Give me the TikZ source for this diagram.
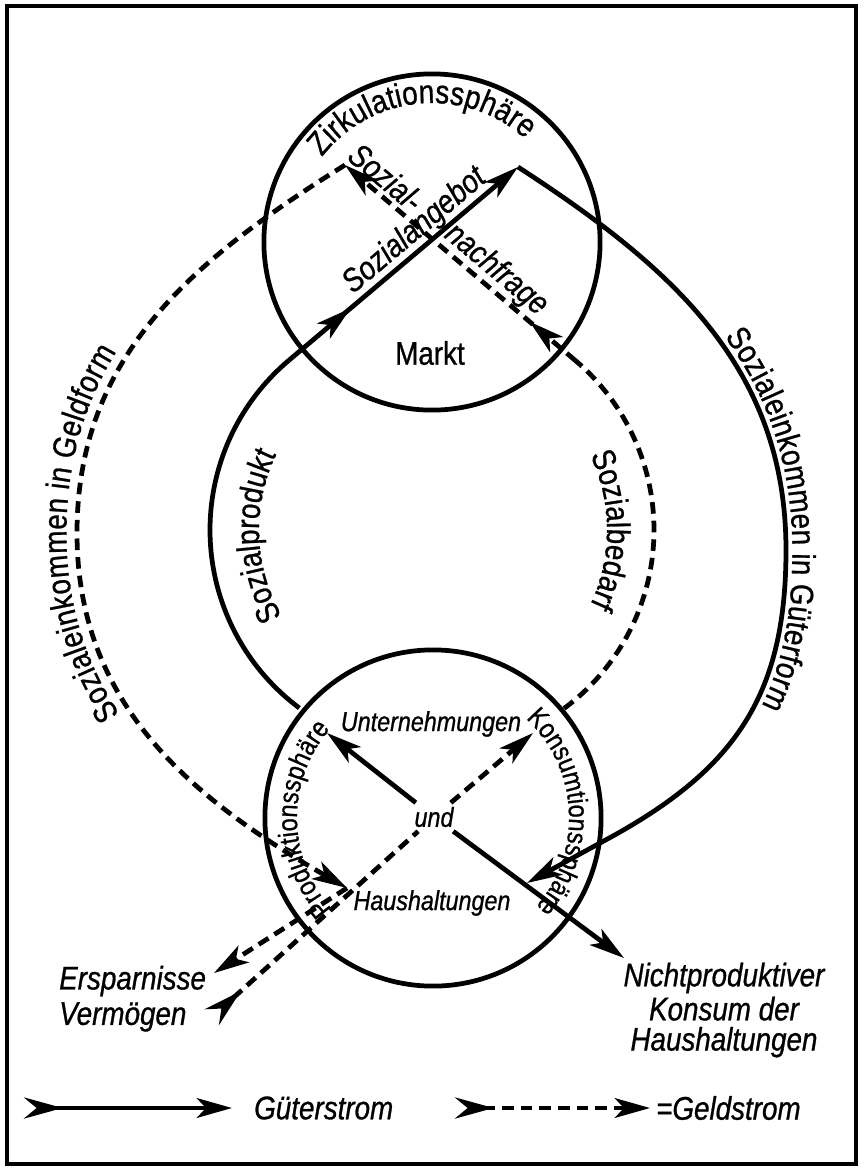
\documentclass[tikz,border=0pt]{standalone}
\usepackage{fontspec}
\setmainfont{Liberation Sans}[FakeStretch=0.85, FakeBold=0.8]
\usetikzlibrary{arrows.meta}
\usetikzlibrary{decorations.markings}
\usetikzlibrary{decorations.text}

\newcommand{\lblsize}{\fontsize{9.3}{8.6}\selectfont}
\newcommand{\smlsize}{\fontsize{7.8}{9}\selectfont}
\newcommand{\arcsize}{\fontsize{7.9}{9}\selectfont}

\begin{document}
\begin{tikzpicture}[x=0.01cm, y=0.01cm,
  >={Stealth[length=10pt, width=5.6pt, inset=2.6pt]},
  feather/.tip={Stealth[reversed, length=11pt, width=6pt, inset=3.6pt]},
  gut/.style={line width=1.35pt},
  geld/.style={line width=1.35pt, dash pattern=on 3.3pt off 2pt},
  sphere/.style={circle, draw, line width=1.35pt, minimum size=3.36cm},
  lbl/.style={font=\lblsize, inner sep=1pt},
  midtip/.style={postaction={decorate, decoration={markings,
      mark=at position #1 with {\arrow{>}}}}},
  arclbl/.style={decorate, decoration={text along path, text align=center, text={#1}}}]

  \useasboundingbox (0,0) rectangle (864,-1169);
  \draw[line width=1.3pt] (7,-6) rectangle (856,-1164);

  % the two spheres
  \node[sphere] (zirk) at (432,-242) {};
  \node[sphere] (prod) at (433,-818) {};

  \path[arclbl={|\fontsize{9.4}{9}\selectfont|Zirkulationssphäre}]
    (zirk.center) ++(148:139) arc[start angle=148, end angle=42, radius=139];
  \path[arclbl={|\arcsize|Produktionssphäre}]
    (prod.center) ++(226:136) arc[start angle=226, end angle=135, radius=136];
  \path[arclbl={|\arcsize|Konsumtionssphäre}]
    (prod.center) ++(48:136) arc[start angle=48, end angle=-42, radius=136];

  \node[lbl] (markt) at (430,-353) {Markt};

  % points on the flows
  \coordinate (mid) at (432,-530);
  \coordinate (peakR) at (518,-167);
  \coordinate (gr) at (786,-550);
  \coordinate (gk) at (600,-843);
  \coordinate (gtip) at (527,-883);
  \coordinate (peakL) at (345,-165);
  \coordinate (gl) at (77,-533);
  \coordinate (hh) at (347,-888);

  % Gueterstrom
  \draw[gut] (mid) ++(233.3:222) coordinate (sp1)
    arc[start angle=233.3, end angle=130.2, radius=222] coordinate (tp);
  \draw[gut, ->, midtip=0.27] (tp) -- node[lbl, font=\lblsize\itshape, sloped, above,
    inner sep=0pt, pos=0.6] {Sozialangebot} (peakR);
  \draw[gut] (peakR) to[out=-33, in=90] (gr) to[out=-90, in=28, looseness=1.1] (gk);
  \draw[gut, ->] (gk) -- (gtip);

  % Geldstrom
  \draw[geld] (mid) ++(-53.5:222) coordinate (sb1)
    arc[start angle=-53.5, end angle=49.7, radius=222] coordinate (tq);
  \draw[geld, ->, midtip=0.2] (tq) -- (peakL);
  \draw[geld, ->] (peakL) to[out=212, in=90] (gl) to[out=-90, in=150] (hh);

  \node[lbl, font=\lblsize\itshape, rotate=-40] (snf1) at (386,-177) {Sozial-};
  \node[lbl, font=\lblsize\itshape, rotate=-40] (snf2) at (496,-270) {nachfrage};

  \path[arclbl={|\lblsize|Sozialprodukt}]
    (mid) ++(216:173) arc[start angle=216, end angle=148, radius=173];
  \path[arclbl={|\lblsize|Sozialbedarf}]
    (mid) ++(34:175) arc[start angle=34, end angle=-34, radius=175];

  \path[decorate, decoration={text along path, raise=3pt,
      text align={left indent=2.85cm}, text={|\lblsize|Sozialeinkommen in Geldform}}]
    (hh) to[out=150, in=-90] (gl) to[out=90, in=212] (peakL);
  \path[decorate, decoration={text along path, raise=1.8pt,
      text align={left indent=2.67cm}, text={|\lblsize|Sozialeinkommen in Güterform}}]
    (peakR) to[out=-33, in=90] (gr) to[out=-90, in=28, looseness=1.1] (gk);

  % inside the lower sphere
  \node[lbl, font=\smlsize\itshape] (unter) at (431,-724) {Unternehmungen};
  \node[lbl, font=\smlsize\itshape] (haus) at (432,-903) {Haushaltungen};
  \node[lbl, font=\smlsize\itshape] (und) at (434,-817) {und};

  \coordinate (ut) at (327,-733);
  \coordinate (kt) at (533,-733);
  \coordinate (nk) at (624,-958);
  \coordinate (vt) at (212,-1017);
  \coordinate (es) at (214,-973);

  \draw[gut, ->] (und) -- (ut);
  \draw[gut, ->] (und) -- (nk);
  \draw[geld, ->] (und) -- (kt);
  \draw[geld, feather-] (vt) -- (und);
  \draw[geld, ->] (hh) -- (es);

  \node[lbl, font=\lblsize\itshape, anchor=west] (erspar) at (55,-981) {Ersparnisse};
  \node[lbl, font=\lblsize\itshape, anchor=west] (verm) at (55,-1017) {Vermögen};
  \node[lbl, font=\lblsize\itshape, align=center] (npk) at (724,-1010)
    {Nichtproduktiver\\Konsum der\\Haushaltungen};

  % legend
  \coordinate (lgA) at (24,-1108);
  \coordinate (lgB) at (232,-1108);
  \coordinate (lgC) at (455,-1108);
  \coordinate (lgD) at (650,-1108);
  \draw[gut, feather->] (lgA) -- (lgB);
  \draw[geld, feather->] (lgC) -- (lgD);
  \node[lbl, font=\lblsize\itshape, anchor=west] (gstrom) at (250,-1108) {Güterstrom};
  \node[lbl, font=\lblsize\itshape, anchor=west] (gldstrom) at (652,-1108) {=Geldstrom};
\end{tikzpicture}
\end{document}
